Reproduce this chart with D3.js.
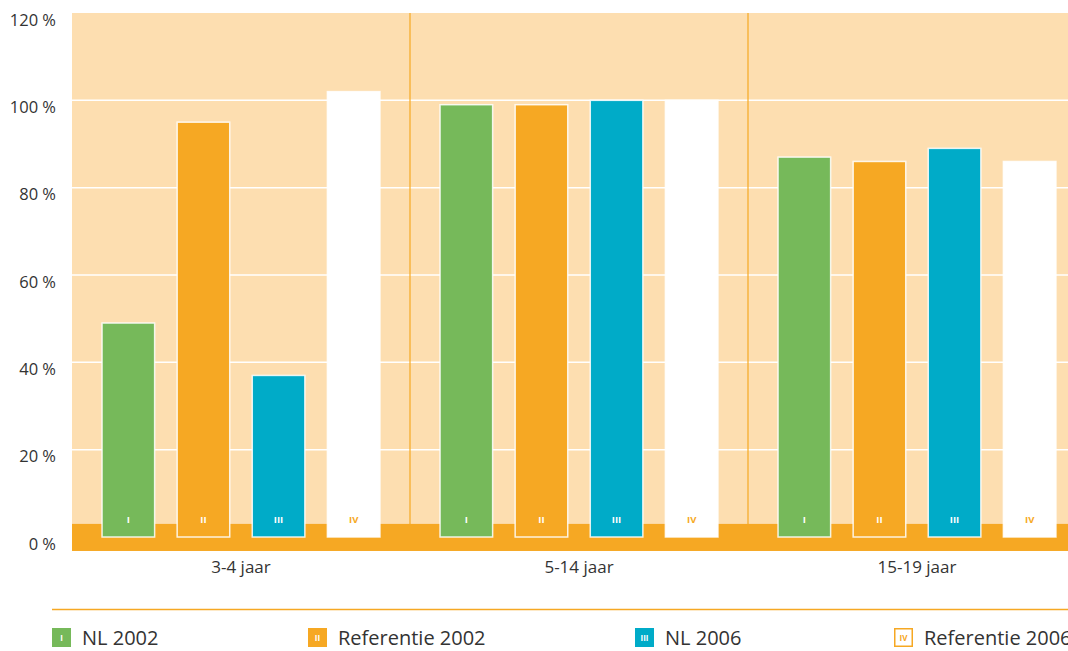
<!DOCTYPE html>
<html><head><meta charset="utf-8">
<script src="https://cdn.jsdelivr.net/npm/d3@7"></script>
<style>html,body{margin:0;padding:0;background:#fff;}svg{display:block;}</style>
</head><body>
<svg id="chart" width="1068" height="651"></svg>
<script>
const categories = ["3-4 jaar", "5-14 jaar", "15-19 jaar"];
const seriesNames = ["NL 2002", "Referentie 2002", "NL 2006", "Referentie 2006"];
const numerals = ["I", "II", "III", "IV"];
const nl2002 = [49, 99, 87];
const ref2002 = [95, 99, 86];
const nl2006 = [37, 100, 89];
const ref2006 = [102, 100, 86];
const yTicks = [0, 20, 40, 60, 80, 100, 120];

const seriesValues = [nl2002, ref2002, nl2006, ref2006];
const fills = ["#76b95a", "#f6a823", "#00abc8", "#ffffff"];
const numColors = ["#ffffff", "#ffffff", "#ffffff", "#f6a823"];
const peach = "#fddeb0";
const orange = "#f6a823";
const font = "'Open Sans', 'Noto Sans', sans-serif";

const svg = d3.select("#chart");
const plotLeft = 72, plotRight = 1086, plotTop = 13, zeroY = 537;

const y = d3.scaleLinear().domain([0, 120]).range([zeroY, plotTop]);
const x0 = d3.scaleBand().domain(categories).range([plotLeft, plotRight]).padding(0);
const x1 = d3.scaleBand().domain(seriesNames).range([0, x0.bandwidth()]).paddingInner(0.3).paddingOuter(0.4);

// plot background
svg.append("rect").attr("x", plotLeft).attr("y", y(120)).attr("width", plotRight - plotLeft).attr("height", y(-3) - y(120)).attr("fill", peach);

// gridlines
svg.append("g").selectAll("line").data(yTicks.filter(d => d > 0 && d < 120)).join("line")
  .attr("x1", plotLeft).attr("x2", plotRight).attr("y1", d => y(d)).attr("y2", d => y(d))
  .attr("stroke", "#ffffff").attr("stroke-width", 1.5);

// group dividers
svg.append("g").selectAll("line").data(categories.slice(1)).join("line")
  .attr("x1", d => x0(d)).attr("x2", d => x0(d)).attr("y1", y(120)).attr("y2", y(-3))
  .attr("stroke", orange).attr("stroke-width", 1.2);

// orange base band
svg.append("rect").attr("x", plotLeft).attr("y", y(3)).attr("width", plotRight - plotLeft).attr("height", y(-3.2) - y(3)).attr("fill", orange);

// bars
const barData = [];
categories.forEach((c, ci) => seriesNames.forEach((s, si) => barData.push({c, s, si, v: seriesValues[si][ci]})));
const bars = svg.append("g");
bars.selectAll("rect").data(barData).join("rect")
  .attr("x", d => x0(d.c) + x1(d.s)).attr("width", x1.bandwidth())
  .attr("y", d => y(d.v)).attr("height", d => y(0) - y(d.v))
  .attr("fill", d => fills[d.si]).attr("stroke", "#ffffff").attr("stroke-opacity", 0.85).attr("stroke-width", 1.5);
bars.selectAll("text").data(barData).join("text")
  .attr("x", d => x0(d.c) + x1(d.s) + x1.bandwidth() / 2).attr("y", y(0) - 14)
  .attr("text-anchor", "middle").attr("font-family", font).attr("font-weight", "bold").attr("font-size", 9.5)
  .attr("fill", d => numColors[d.si]).text(d => numerals[d.si]);

// y axis labels
const yAxis = d3.axisLeft(y).tickValues(yTicks).tickFormat(d => d + " %").tickSize(0).tickPadding(0);
const yg = svg.append("g").attr("transform", "translate(56,7)").call(yAxis);
yg.select(".domain").remove();
yg.selectAll("text").attr("font-family", font).attr("font-size", 16.5).attr("fill", "#333").attr("dy", "0.32em");

// x axis labels
const xAxis = d3.axisBottom(x0).tickSize(0).tickPadding(0);
const xg = svg.append("g").attr("transform", "translate(0,561)").call(xAxis);
xg.select(".domain").remove();
xg.selectAll("text").attr("font-family", font).attr("font-size", 17).attr("fill", "#333").attr("dy", "0.71em");

// legend
svg.append("line").attr("x1", 52).attr("x2", 1068).attr("y1", 609.5).attr("y2", 609.5).attr("stroke", orange).attr("stroke-width", 1.5);
const legendX = [52, 308, 635, 894];
const lg = svg.append("g").selectAll("g").data(seriesNames).join("g")
  .attr("transform", (d, i) => `translate(${legendX[i]},628)`);
lg.append("rect").attr("x", (d, i) => i === 3 ? 0.75 : 0).attr("y", (d, i) => i === 3 ? 0.75 : 0)
  .attr("width", (d, i) => i === 3 ? 17.5 : 19).attr("height", (d, i) => i === 3 ? 17.5 : 19)
  .attr("fill", (d, i) => fills[i]).attr("stroke", (d, i) => i === 3 ? orange : "none").attr("stroke-width", 1.5);
lg.append("text").attr("x", 9.5).attr("y", 13).attr("text-anchor", "middle")
  .attr("font-family", font).attr("font-weight", "bold").attr("font-size", 8)
  .attr("fill", (d, i) => numColors[i]).text((d, i) => numerals[i]);
lg.append("text").attr("x", 30).attr("y", 17).attr("font-family", font).attr("font-size", 20)
  .attr("fill", "#333").text(d => d);
</script>
</body></html>
